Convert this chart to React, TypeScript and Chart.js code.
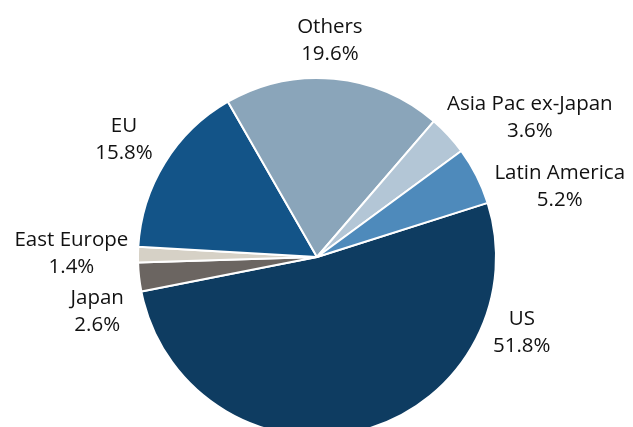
import React, { useEffect, useRef } from "react";
import { Chart, registerables } from "chart.js";

Chart.register(...registerables);

const categories = ["US", "Japan", "East Europe", "EU", "Others", "Asia Pac ex-Japan", "Latin America"];
const shares = [51.8, 2.6, 1.4, 15.8, 19.6, 3.6, 5.2];
const colors = ["#0e3c61", "#6b6561", "#d6d1c6", "#135488", "#8aa5ba", "#b3c6d6", "#4e8abb"];
// label block centres relative to pie centre, in units of the outer radius
const labelAnchors: [number, number][] = [
  [1.144, 0.425],
  [-1.228, 0.308],
  [-1.372, -0.019],
  [-1.078, -0.653],
  [0.072, -1.206],
  [1.189, -0.781],
  [1.356, -0.394],
];

const FONT = '"Open Sans", "Noto Sans", sans-serif';

const outerLabels = {
  id: "outerLabels",
  afterDatasetsDraw(chart: any) {
    const { ctx } = chart;
    const meta = chart.getDatasetMeta(0);
    ctx.save();
    ctx.font = `20.5px ${FONT}`;
    ctx.fillStyle = "#111111";
    ctx.textAlign = "center";
    ctx.textBaseline = "middle";
    meta.data.forEach((arc: any, i: number) => {
      const r = arc.outerRadius;
      const x = arc.x + labelAnchors[i][0] * r;
      const y = arc.y + labelAnchors[i][1] * r;
      ctx.fillText(categories[i], x, y - 13.5);
      ctx.fillText(shares[i].toFixed(1) + "%", x, y + 13.5);
    });
    ctx.restore();
  },
};

export default function App() {
  const ref = useRef<HTMLCanvasElement>(null);
  useEffect(() => {
    document.body.style.margin = "0";
    document.body.style.overflow = "hidden";
    const chart = new Chart(ref.current!, {
      type: "pie",
      data: {
        labels: categories,
        datasets: [
          {
            data: shares,
            backgroundColor: colors,
            borderColor: "#ffffff",
            borderWidth: 2,
          },
        ],
      },
      options: {
        animation: false,
        responsive: false,
        rotation: 72.4,
        layout: { padding: { left: 137, right: 136, top: 77, bottom: 43 } },
        plugins: { legend: { display: false }, tooltip: { enabled: false } },
      },
      plugins: [outerLabels],
    });
    return () => chart.destroy();
  }, []);
  return (
    <div style={{ position: "fixed", left: 0, top: 0, width: 633, height: 427, overflow: "hidden", background: "#fff" }}>
      <canvas ref={ref} width={633} height={480} style={{ width: 633, height: 480, display: "block" }} />
    </div>
  );
}
